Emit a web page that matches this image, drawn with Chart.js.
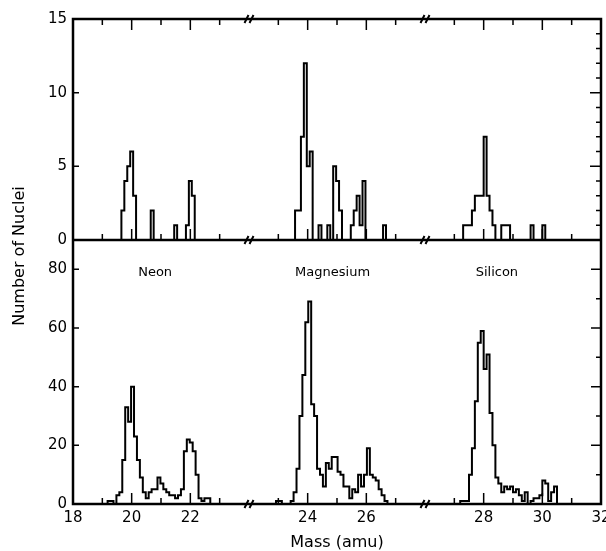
<!DOCTYPE html>
<html>
<head>
<meta charset="utf-8">
<script src="https://cdn.jsdelivr.net/npm/chart.js@4.4.0/dist/chart.umd.min.js"></script>
<style>
  html, body { margin: 0; padding: 0; background: #fff; }
  canvas { display: block; }
</style>
</head>
<body>
<canvas id="graph" width="606" height="551"></canvas>
<script>
// counts per 0.1 amu bin, first bin starts at the given mass
var binWidth = 0.1;

// upper panel
var neonTopStart = 19.65;
var neonTop = [2, 4, 5, 6, 3, 0, 0, 0, 0, 0, 2, 0, 0, 0, 0, 0, 0, 0, 1, 0, 0, 0, 1, 4, 3];
var magnesiumTopStart = 23.57;
var magnesiumTop = [2, 2, 7, 12, 5, 6, 0, 0, 1, 0, 0, 1, 0, 5, 4, 2, 0, 0, 0, 1, 2, 3, 1, 4, 0, 0, 0, 0, 0, 0, 1];
var siliconTopStart = 27.3;
var siliconTop = [1, 1, 1, 2, 3, 3, 3, 7, 3, 2, 1, 0, 0, 1, 1, 1, 0, 0, 0, 0, 0, 0, 0, 1, 0, 0, 0, 1];

// lower panel
var neonBottomStart = 19.18;
var neonBottom = [1, 1, 0, 3, 4, 15, 33, 28, 40, 23, 15, 9, 4, 2, 4, 5, 5, 9, 7, 5, 4, 3, 3, 2, 3, 5, 18, 22, 21, 18, 10, 2, 1, 2, 2];
var magnesiumBottomStart = 22.92;
var magnesiumBottom = [1, 1, 0, 0, 0, 1, 4, 12, 30, 44, 62, 69, 34, 30, 12, 10, 6, 14, 12, 16, 16, 11, 10, 6, 6, 2, 5, 4, 10, 6, 10, 19, 10, 9, 8, 5, 3, 1];
var siliconBottomStart = 27.2;
var siliconBottom = [1, 1, 1, 10, 19, 35, 55, 59, 46, 51, 31, 20, 9, 7, 4, 6, 5, 6, 4, 5, 3, 1, 4, 0, 1, 2, 2, 3, 8, 7, 1, 4, 6];

var elements = ['Neon', 'Magnesium', 'Silicon'];
var massTicks = [18, 20, 22, 24, 26, 28, 30, 32];

// broken mass axis: each element gets its own stretch of the x scale
var shift = { Neon: 18, Magnesium: 16, Silicon: 14 };

function massToPos(m) {
  return m < 23 ? m - shift.Neon : m < 27 ? m - shift.Magnesium : m - shift.Silicon;
}
function posToMass(p) {
  return p < 6 ? p + shift.Neon : p < 12 ? p + shift.Magnesium : p + shift.Silicon;
}

function steps(start, counts, s) {
  var pts = [{ x: start - s, y: 0 }];
  counts.forEach(function (c, i) {
    pts.push({ x: start + i * binWidth - s, y: c });
  });
  pts.push({ x: start + counts.length * binWidth - s, y: 0 });
  return pts;
}

function hist(start, counts, s, axis) {
  return {
    data: steps(start, counts, s),
    yAxisID: axis,
    borderColor: '#000',
    borderWidth: 2,
    pointRadius: 0,
    fill: false,
    stepped: 'before'
  };
}

var frame = {
  id: 'frame',
  afterDraw: function (chart) {
    var ctx = chart.ctx;
    var a = chart.chartArea;
    var x = chart.scales.x, yt = chart.scales.yTop, yb = chart.scales.yBottom;
    var mid = yt.getPixelForValue(0);
    var p, px, py, v, len;
    ctx.save();
    ctx.strokeStyle = '#000';
    ctx.lineWidth = 1.5;
    ctx.beginPath();
    for (p = 0; p <= 18; p++) {
      if (p === 6 || p === 12) continue;
      px = x.getPixelForValue(p);
      len = p % 2 === 0 ? 11 : 6;
      ctx.moveTo(px, a.top); ctx.lineTo(px, a.top + len);
      ctx.moveTo(px, mid); ctx.lineTo(px, mid - len);
      ctx.moveTo(px, a.bottom); ctx.lineTo(px, a.bottom - len);
    }
    for (v = 1; v < 15; v++) {
      py = yt.getPixelForValue(v);
      len = v % 5 === 0 ? 11 : 5;
      ctx.moveTo(a.right, py); ctx.lineTo(a.right - len, py);
      if (v % 5 === 0) { ctx.moveTo(a.left, py); ctx.lineTo(a.left + 6, py); }
    }
    for (v = 10; v < 90; v += 10) {
      py = yb.getPixelForValue(v);
      len = v % 20 === 0 ? 10 : 5;
      ctx.moveTo(a.right, py); ctx.lineTo(a.right - len, py);
      if (v % 20 === 0) { ctx.moveTo(a.left, py); ctx.lineTo(a.left + 6, py); }
    }
    ctx.stroke();

    // frame and panel divider
    ctx.lineWidth = 2.5;
    ctx.strokeRect(a.left, a.top, a.right - a.left, a.bottom - a.top);
    ctx.beginPath();
    ctx.moveTo(a.left, mid); ctx.lineTo(a.right, mid);
    ctx.stroke();

    // axis breaks
    ctx.lineWidth = 2;
    ctx.beginPath();
    [6, 12].forEach(function (b) {
      var bx = x.getPixelForValue(b);
      [a.top, mid, a.bottom].forEach(function (by) {
        [-2.5, 2.5].forEach(function (dx) {
          ctx.moveTo(bx + dx - 2, by + 4);
          ctx.lineTo(bx + dx + 2, by - 4);
        });
      });
    });
    ctx.stroke();

    ctx.fillStyle = '#000';
    ctx.textAlign = 'center';
    ctx.textBaseline = 'middle';
    ctx.font = '13px "DejaVu Sans"';
    var labelMass = [20.8, 24.85, 28.45];
    elements.forEach(function (name, i) {
      ctx.fillText(name, x.getPixelForValue(massToPos(labelMass[i])), yb.getPixelForValue(79));
    });

    ctx.font = '16px "DejaVu Sans"';
    ctx.translate(20, 256);
    ctx.rotate(-Math.PI / 2);
    ctx.fillText('Number of Nuclei', 0, 0);
    ctx.restore();
  }
};

Chart.defaults.font.family = '"DejaVu Sans"';
Chart.defaults.font.size = 15;
Chart.defaults.color = '#000';

var ctx = document.getElementById('graph').getContext('2d');
var chart = new Chart(ctx, {
  type: 'line',
  data: {
    datasets: [
      hist(neonTopStart, neonTop, shift.Neon, 'yTop'),
      hist(magnesiumTopStart, magnesiumTop, shift.Magnesium, 'yTop'),
      hist(siliconTopStart, siliconTop, shift.Silicon, 'yTop'),
      hist(neonBottomStart, neonBottom, shift.Neon, 'yBottom'),
      hist(magnesiumBottomStart, magnesiumBottom, shift.Magnesium, 'yBottom'),
      hist(siliconBottomStart, siliconBottom, shift.Silicon, 'yBottom')
    ]
  },
  options: {
    responsive: false,
    animation: false,
    devicePixelRatio: 1,
    layout: { padding: { top: 19, right: 5, bottom: 0, left: 0 } },
    plugins: { legend: { display: false }, tooltip: { enabled: false } },
    scales: {
      x: {
        type: 'linear',
        min: 0,
        max: 18,
        grid: { display: false, drawTicks: false },
        border: { display: false },
        ticks: {
          padding: 5,
          autoSkip: false,
          maxRotation: 0,
          callback: function (value) { return posToMass(value); }
        },
        afterBuildTicks: function (axis) {
          axis.ticks = massTicks.map(function (m) { return { value: massToPos(m) }; });
        },
        afterFit: function (axis) {
          axis.height = 47;
          axis.paddingLeft = 0;
          axis.paddingRight = 0;
        },
        title: {
          display: true,
          text: 'Mass (amu)',
          font: { size: 16, lineHeight: 1 },
          padding: { top: 0, bottom: 0 }
        }
      },
      yBottom: {
        type: 'linear',
        position: 'left',
        stack: 'panels',
        stackWeight: 264,
        min: 0,
        max: 90,
        grid: { display: false, drawTicks: false },
        border: { display: false },
        ticks: { stepSize: 20, padding: 6, includeBounds: false },
        afterFit: function (axis) {
          axis.width = 73;
          axis.paddingTop = 0;
          axis.paddingBottom = 0;
        }
      },
      yTop: {
        type: 'linear',
        position: 'left',
        stack: 'panels',
        stackWeight: 221,
        min: 0,
        max: 15,
        grid: { display: false, drawTicks: false },
        border: { display: false },
        ticks: { stepSize: 5, padding: 6 },
        afterFit: function (axis) {
          axis.width = 73;
          axis.paddingTop = 0;
          axis.paddingBottom = 0;
        }
      }
    }
  },
  plugins: [frame]
});
</script>
</body>
</html>
